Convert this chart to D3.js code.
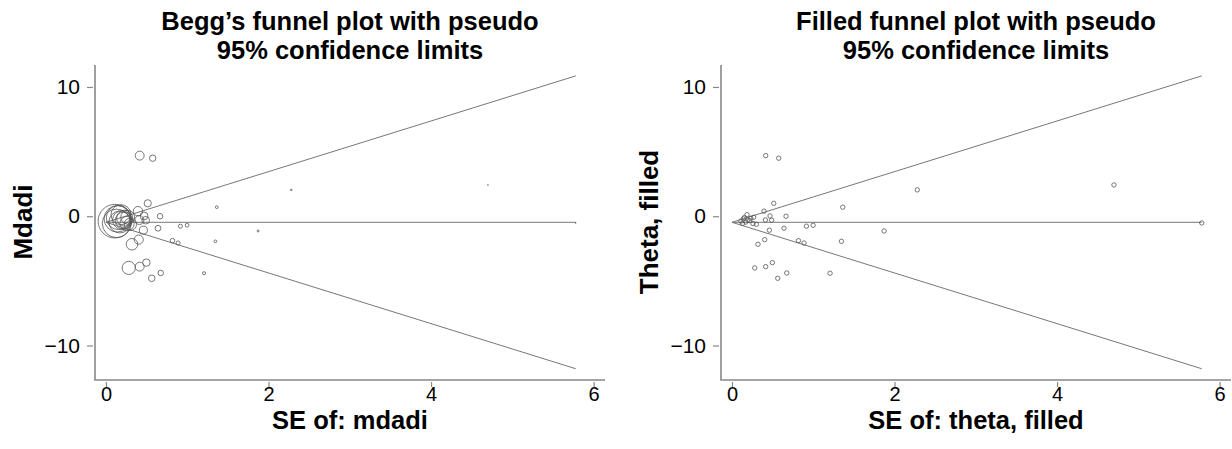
<!DOCTYPE html>
<html>
<head>
<meta charset="utf-8">
<script src="https://cdn.jsdelivr.net/npm/d3@7"></script>
<style>
  body { margin: 0; background: #fff; }
  text { font-family: Arial, "Liberation Sans", Helvetica, sans-serif; }
</style>
</head>
<body>
<div id="chart"></div>
<script>
// study standard errors and effect sizes (mdadi)
var se = [0.415, 0.575, 2.28, 0.514, 0.394, 1.363, 0.468, 0.665, 0.185, 0.153,
          0.267, 0.197, 0.218, 0.411, 0.489, 0.11, 0.259, 0.30, 0.916, 0.998,
          0.64, 0.46, 1.872, 0.403, 0.32, 0.818, 0.887, 1.347, 0.497, 0.415,
          0.28, 0.674, 0.563, 1.207, 4.70, 5.78, 0.14, 0.17, 0.23, 0.13];
var theta = [4.69, 4.49, 2.04, 1.00, 0.39, 0.70, 0.02, 0.00, 0.12, -0.10,
             -0.08, -0.29, -0.34, -0.29, -0.31, -0.38, -0.57, -0.62, -0.77, -0.70,
             -0.93, -1.08, -1.14, -1.81, -2.17, -1.89, -2.07, -1.94, -3.59, -3.90,
             -4.00, -4.39, -4.80, -4.41, 2.42, -0.52, -0.20, -0.45, -0.15, -0.55];
var pooled = -0.47;
var seMax = 5.78;

var xTicks = [0, 2, 4, 6];
var yTicks = [-10, 0, 10];

var width = 1232,
    height = 449;

var svg = d3.select('#chart')
    .append('svg')
    .attr('width', width)
    .attr('height', height);

var data = se.map(function (s, i) { return { se: s, theta: theta[i] }; });

function drawPanel(opts) {
  var x = d3.scaleLinear().domain([-0.135, 6.14]).range([opts.left, opts.left + 510]);
  var y = d3.scaleLinear().domain([-12.67, 11.7]).range([380, 65]);
  var g = svg.append('g');
  var cx = (opts.left + opts.left + 510) / 2;

  // two-line title
  g.selectAll('.title')
    .data(opts.title)
    .enter()
    .append('text')
    .attr('x', cx)
    .attr('y', (d, i) => 29.5 + i * 29)
    .attr('text-anchor', 'middle')
    .style('font-size', '25.5px')
    .style('font-weight', 'bold')
    .text(d => d);

  // y axis
  var yAxis = g.append('g')
    .attr('transform', 'translate(' + (opts.left - 2) + ',0)')
    .call(d3.axisLeft(y).tickValues(yTicks).tickFormat(d3.format('d'))
      .tickSize(6).tickSizeOuter(0).tickPadding(7));
  yAxis.select('.domain').remove();
  yAxis.selectAll('line').attr('stroke', '#888').attr('stroke-width', 1.2);
  yAxis.selectAll('text').style('font-size', '21px').attr('fill', '#000');

  // x axis
  var xAxis = g.append('g')
    .attr('transform', 'translate(0,382)')
    .call(d3.axisBottom(x).tickValues(xTicks).tickFormat(d3.format('d'))
      .tickSize(5).tickSizeOuter(0).tickPadding(0));
  xAxis.select('.domain').remove();
  xAxis.selectAll('line').attr('stroke', '#888').attr('stroke-width', 1.2);
  xAxis.selectAll('text').style('font-size', '20px').attr('fill', '#000');

  // axis lines
  g.append('path')
    .attr('d', 'M' + opts.left + ',65V380H' + (opts.left + 510))
    .attr('fill', 'none')
    .attr('stroke', '#888')
    .attr('stroke-width', 1.6);

  // axis titles
  g.append('text')
    .attr('x', cx)
    .attr('y', 429)
    .attr('text-anchor', 'middle')
    .style('font-size', '25.5px')
    .style('font-weight', 'bold')
    .text(opts.xTitle);

  g.append('text')
    .attr('transform', 'translate(' + opts.yTitleX + ',222) rotate(-90)')
    .attr('text-anchor', 'middle')
    .style('font-size', '26px')
    .style('font-weight', 'bold')
    .text(opts.yTitle);

  // pseudo 95% confidence limits
  var lines = [
    [[0, pooled], [seMax, pooled]],
    [[0, pooled], [seMax, pooled + 1.96 * seMax]],
    [[0, pooled], [seMax, pooled - 1.96 * seMax]]
  ];
  g.selectAll('.funnel')
    .data(lines)
    .enter()
    .append('path')
    .attr('d', d3.line().x(d => x(d[0])).y(d => y(d[1])))
    .attr('fill', 'none')
    .attr('stroke', '#777')
    .attr('stroke-width', 1);

  // studies
  g.selectAll('circle')
    .data(data)
    .enter()
    .append('circle')
    .attr('cx', d => x(d.se))
    .attr('cy', d => y(d.theta))
    .attr('r', d => opts.weighted ? Math.max(0.4, 1.85 / d.se) : 2.2)
    .attr('fill', 'none')
    .attr('stroke', '#555')
    .attr('stroke-width', 0.8);
}

drawPanel({
  left: 95,
  title: ['Begg\u2019s funnel plot with pseudo', '95% confidence limits'],
  xTitle: 'SE of: mdadi',
  yTitle: 'Mdadi',
  yTitleX: 32,
  weighted: true
});

drawPanel({
  left: 721,
  title: ['Filled funnel plot with pseudo', '95% confidence limits'],
  xTitle: 'SE of: theta, filled',
  yTitle: 'Theta, filled',
  yTitleX: 658,
  weighted: false
});
</script>
</body>
</html>
